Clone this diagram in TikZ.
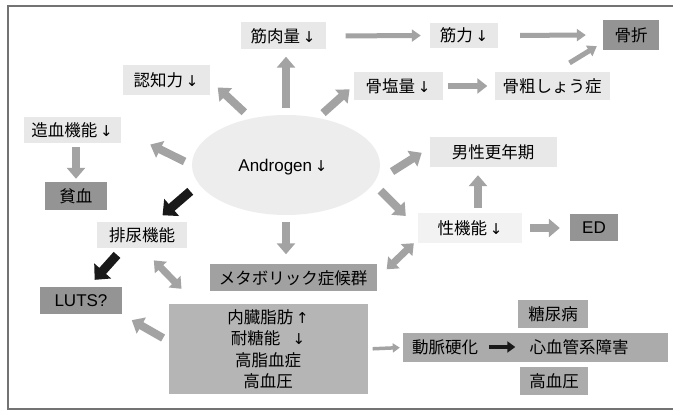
\documentclass[tikz,border=0pt]{standalone}
\usepackage{fontspec}
\setmainfont{Noto Sans CJK JP}
\newfontfamily\latinf{Liberation Sans}
\newfontfamily\arrf{DejaVu Sans}
\usetikzlibrary{arrows.meta,shapes.geometric,calc}
\newcommand{\dnar}{{\arrf\fontsize{15}{16}\selectfont ↓}}
\newcommand{\upar}{{\arrf\fontsize{15}{16}\selectfont ↑}}
\definecolor{lightfill}{gray}{0.91}
\definecolor{ellfill}{gray}{0.93}
\definecolor{darkfill}{gray}{0.58}
\definecolor{metafill}{gray}{0.63}
\definecolor{bigfill}{gray}{0.71}
\definecolor{barfill}{gray}{0.67}
\definecolor{agray}{gray}{0.64}
\tikzset{
  box/.style={inner sep=0pt, anchor=center},
  lbox/.style={box, fill=lightfill},
  dbox/.style={box, fill=darkfill},
  mbox/.style={box, fill=barfill},
  latintext/.style={font=\latinf\fontsize{17}{20}\selectfont},
  garrow/.style={draw=agray, line width=8pt, -{Triangle[length=11pt,width=18pt]}},
  gmid/.style={draw=agray, line width=6.5pt, -{Triangle[length=10pt,width=15pt]}},
  gthin/.style={draw=agray, line width=5pt, -{Triangle[length=9pt,width=12pt]}},
  gsmall/.style={draw=agray, line width=3.5pt, -{Triangle[length=7pt,width=9pt]}},
  gdouble/.style={draw=agray, line width=7pt, {Triangle[length=10pt,width=16pt]}-{Triangle[length=10pt,width=16pt]}},
  barrow/.style={draw=black!90, line width=9pt, -{Triangle[length=12pt,width=22pt]}},
  bsmall/.style={draw=black!90, line width=4.5pt, -{Triangle[length=8pt,width=11pt]}},
}
\begin{document}
\begin{tikzpicture}[x=1pt,y=-1pt,font=\fontsize{16.5}{19}\selectfont]
\useasboundingbox[fill=white] (0,0) rectangle (673,411);
\draw[black!55, line width=1.2pt] (673,6) -- (8,6) -- (8,409) -- (673,409);

% nodes
\node[box, ellipse, fill=ellfill, minimum width=188, minimum height=100] (andr) at (286,165) {};
\node[box, latintext] (andrt) at (283,167) {Androgen\,\dnar};
\node[lbox, minimum width=85, minimum height=27] (mk) at (283,36) {筋肉量\,\dnar};
\node[lbox, minimum width=68, minimum height=25] (kr) at (464,35.5) {筋力\,\dnar};
\node[dbox, minimum width=56, minimum height=30] (kos) at (631,35) {骨折};
\node[lbox, minimum width=87, minimum height=30] (nc) at (166,80) {認知力\,\dnar};
\node[lbox, minimum width=89, minimum height=28] (ken) at (398,86) {骨塩量\,\dnar};
\node[lbox, minimum width=115, minimum height=28] (ks) at (552,86) {骨粗しょう症};
\node[lbox, minimum width=97, minimum height=26] (zk) at (72,130) {造血機能\,\dnar};
\node[dbox, minimum width=62, minimum height=28] (hk) at (76,196) {貧血};
\node[lbox, minimum width=127, minimum height=30] (dk) at (493,152) {男性更年期};
\node[box, fill=black!5, minimum width=104, minimum height=30] (sk) at (470,228) {性機能\,\dnar};
\node[dbox, latintext, minimum width=48, minimum height=27] (ed) at (594,228) {ED};
\node[lbox, minimum width=90, minimum height=26] (hn) at (142,235) {排尿機能};
\node[dbox, latintext, minimum width=82, minimum height=27] (luts) at (81,301) {LUTS?};
\node[box, fill=metafill, minimum width=167, minimum height=27] (meta) at (293,278) {メタボリック症候群};
\node[box, fill=bigfill, minimum width=199, minimum height=90, align=center,
      font=\fontsize{16.5}{21.5}\selectfont] (big) at (268,349)
  {内臓脂肪\,\upar\\耐糖能\hspace{0.75em}\dnar\\高脂血症\\高血圧};
\node[mbox, minimum width=265, minimum height=29] (bar) at (535.5,347.5) {};
\node[box] (dm) at (445,347) {動脈硬化};
\node[box] (sg) at (579,347) {心血管系障害};
\node[mbox, minimum width=70, minimum height=28] (tn) at (553,314) {糖尿病};
\node[mbox, minimum width=68, minimum height=28] (kk) at (554,381) {高血圧};

% gray arrows
\draw[garrow, shorten <=7pt, shorten >=7pt] (andr.north) -- (andr.north |- mk.south);
\draw[garrow, shorten <=9pt, shorten >=11pt] (andr.127) -- (nc.east);
\draw[garrow, shorten <=7pt, shorten >=5pt] (andr.56) -- (ken.west);
\draw[garrow, shorten <=8pt, shorten >=33pt] (andr.west) -- (zk.east);
\draw[garrow, shorten <=4pt, shorten >=3pt] (hk.north |- zk.south) -- (hk.north);
\draw[gthin, shorten <=20pt, shorten >=9pt] (mk.east) -- (kr.west);
\draw[gthin, shorten <=22pt, shorten >=17pt] (kr.east) -- (kos.west);
\draw[gthin, shorten <=17pt] ([xshift=3pt]ks.north) -- ([xshift=-6pt,yshift=4pt]kos.south west);
\draw[gmid, shorten <=5pt, shorten >=7pt] (ken.east) -- (ks.west);
\draw[garrow, shorten <=14pt, shorten >=9pt] ([yshift=-14pt]andr.east) -- ([yshift=4pt]dk.west);
\draw[garrow, shorten <=10pt, shorten >=17pt] (andr.-12) -- (sk.west);
\draw[garrow, shorten <=5pt, shorten >=8pt] ([xshift=8pt]sk.north) -- ([xshift=8pt]sk.north |- dk.south);
\draw[garrow, shorten <=8pt, shorten >=10pt] (sk.east) -- (ed.west);
\draw[gdouble] ([xshift=-4pt]sk.south west) -- ([xshift=10pt,yshift=-5pt]meta.north east);
\draw[garrow, shorten <=7pt, shorten >=10pt] (andr.south) -- (andr.south |- meta.north);
\draw[gdouble, shorten <=17pt, shorten >=4pt] (hn.south) -- ([xshift=-25pt]meta.south west);
\draw[garrow, shorten <=6pt, shorten >=11pt] ([yshift=8pt]big.west) -- (luts.south east);
\draw[gsmall, shorten <=5pt, shorten >=3pt] (big.east) -- (bar.west);

% black arrows
\draw[barrow, shorten <=2pt, shorten >=10pt] ([yshift=-25pt]andr.west) -- ([xshift=13pt]hn.north);
\draw[barrow, shorten <=9pt, shorten >=10pt] ([xshift=-19pt]hn.south) -- ([xshift=7pt]luts.north);
\draw[bsmall, shorten <=11pt, shorten >=14pt] (dm.east) -- (sg.west);
\end{tikzpicture}
\end{document}
